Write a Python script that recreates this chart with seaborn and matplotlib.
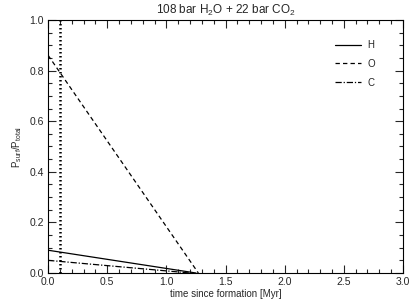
import numpy as np
import pandas as pd
import matplotlib
matplotlib.use("Agg")
import matplotlib.pyplot as plt
import seaborn as sns
from matplotlib.ticker import MultipleLocator

sns.set_theme(style="ticks")
plt.rcParams['font.family'] = ['Liberation Sans', 'DejaVu Sans']
plt.rcParams['mathtext.fontset'] = 'custom'
plt.rcParams['mathtext.rm'] = 'Liberation Sans'
plt.rcParams['mathtext.it'] = 'Liberation Sans'

species = ["H", "O", "C"]
time_myr = [0.0, 1.25]
h_frac = [0.09, 0.0]
o_frac = [0.86, 0.0]
time_c = [0.0, 1.2]
c_frac = [0.05, 0.0]
t_marker = 0.1

df = pd.concat([
    pd.DataFrame({"t": time_myr, "f": h_frac, "sp": "H"}),
    pd.DataFrame({"t": [0.0, 1.27], "f": o_frac, "sp": "O"}),
    pd.DataFrame({"t": time_c, "f": c_frac, "sp": "C"}),
])

fig = plt.figure(figsize=(4.15, 3.02), dpi=100)
ax = fig.add_axes([0.116, 0.096, 0.855, 0.838])

styles = {"H": "-", "O": (0, (3.5, 2.5)), "C": (0, (5, 1.5, 1, 1.5))}
for sp in species:
    sns.lineplot(data=df[df.sp == sp], x="t", y="f", ax=ax, color="black",
                 lw=0.9, linestyle=styles[sp], label=sp, legend=False)

ax.axvline(t_marker, color="black", lw=1.8, linestyle=(0, (0.6, 1.0)))

ax.set_xlim(0, 3.0)
ax.set_ylim(0, 1.0)
ax.xaxis.set_major_locator(MultipleLocator(0.5))
ax.xaxis.set_minor_locator(MultipleLocator(0.1))
ax.yaxis.set_major_locator(MultipleLocator(0.2))
ax.yaxis.set_minor_locator(MultipleLocator(0.05))
ax.tick_params(which="both", direction="in", top=True, right=True, labelsize=7.5, width=0.8, pad=3)
ax.tick_params(which="major", length=6)
ax.tick_params(which="minor", length=3)
ax.set_xticklabels([f"{v:.1f}" for v in ax.get_xticks()])
ax.set_yticklabels([f"{v:.1f}" for v in ax.get_yticks()])
for s in ax.spines.values():
    s.set_linewidth(0.8)
    s.set_color("black")

ax.set_xlabel("time since formation [Myr]", fontsize=7, labelpad=1)
ax.set_ylabel(r"P$_{\rm surf}$/P$_{\rm total}$", fontsize=7, labelpad=4)
ax.set_title(r"108 bar H$_2$O + 22 bar CO$_2$", fontsize=8.5, pad=4)

leg = ax.legend(loc="upper right", frameon=False, fontsize=7, handlelength=2.7,
                labelspacing=0.9, bbox_to_anchor=(0.945, 0.955), handletextpad=0.6)

fig.savefig("out.png", dpi=100)
